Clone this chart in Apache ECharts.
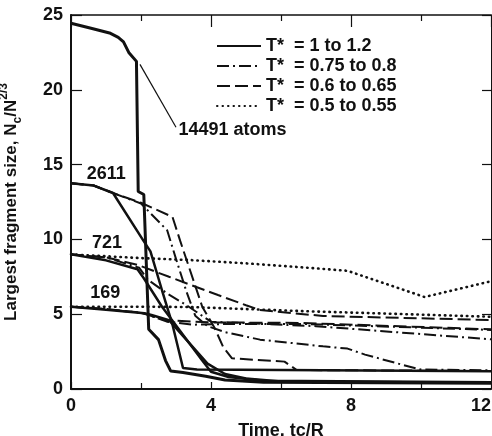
<!DOCTYPE html>
<html>
<head>
<meta charset="utf-8">
<script src="https://cdn.jsdelivr.net/npm/echarts@6/dist/echarts.min.js"></script>
<style>
  html, body { margin: 0; padding: 0; background: #fff; }
  #chart { width: 492px; height: 436px; }
</style>
</head>
<body>
<div id="chart"></div>
<script>
// axis ranges (time tc/R, fragment size Nc/N^2/3)
var xRange = [0, 12];
var xStep = 4;
var yRange = [0, 25];
var yStep = 5;

var legendNames = ['T*  = 1 to 1.2', 'T*  = 0.75 to 0.8', 'T*  = 0.6 to 0.65', 'T*  = 0.5 to 0.55'];

// curves: [time, size]
var n14491_solid = [[0,24.45],[0.6,24.1],[1.1,23.8],[1.35,23.5],[1.5,23.2],[1.65,22.5],[1.87,21.9],[1.92,13.2],[2.08,13.0],[2.22,4.0],[2.5,3.3],[2.7,1.9],[2.85,1.2],[3.2,1.1],[3.85,0.85],[4.4,0.6],[5.5,0.45],[12,0.38]];

var n2611_solid = [[0,13.75],[0.65,13.6],[1.2,13.1],[2.1,9.8],[2.27,9.2],[2.6,6.6],[2.9,4.3],[3.2,1.4],[3.6,1.3],[12,1.18]];
var n2611_dashdot = [[0,13.75],[0.65,13.6],[1.2,13.1],[2.0,12.4],[2.75,10.6],[3.0,8.7],[3.3,6.5],[3.55,4.9],[3.9,4.2],[4.4,3.8],[5.4,3.3],[7.2,2.85],[7.9,2.7],[8.4,2.3],[9.5,1.6],[10,1.3],[12,1.25]];
var n2611_dash = [[0,13.75],[0.65,13.6],[1.2,13.1],[2.0,12.45],[2.9,11.5],[3.12,9.9],[3.75,5.5],[4.1,4.1],[4.35,2.8],[4.6,2.05],[6.1,1.83],[6.45,1.27],[12,1.2]];

var n721_solid = [[0,9.0],[1.0,8.6],[1.9,8.0],[2.08,7.4],[2.6,5.5],[3.75,1.9],[4.0,1.15],[4.5,0.8],[5.5,0.55],[12,0.45]];
var n721_dashdot = [[0,9.0],[1.0,8.8],[1.95,8.1],[2.2,7.3],[2.74,6.4],[3.3,5.6],[4.0,4.5],[7.0,4.2],[12,3.32]];
var n721_dash = [[0,9.0],[1.0,8.8],[1.9,8.3],[2.8,7.5],[4.2,6.28],[5.0,5.6],[5.4,5.28],[7.2,4.88],[12,4.61]];
var n721_dot = [[0,9.0],[2,8.75],[3.4,8.62],[5,8.4],[6.8,8.1],[7.9,7.9],[10.1,6.15],[12,7.2]];

var n169_solid = [[0,5.5],[1,5.3],[2.1,5.06],[2.3,4.95],[2.8,4.6],[3.9,1.7],[4.4,1.0],[5,0.7],[6,0.5],[12,0.42]];
var n169_dashdot = [[0,5.5],[1,5.35],[2.1,5.05],[2.74,4.5],[3.5,4.3],[4.5,4.35],[6.6,4.35],[12,3.95]];
var n169_dash = [[0,5.5],[1,5.35],[2,5.1],[2.7,4.6],[4,4.45],[6.5,4.42],[12,3.99]];
var n169_dot = [[0,5.5],[2,5.5],[3.4,5.48],[6.7,5.2],[12,4.83]];

// size labels: [time, size, text]
var sizeLabels = [[1.01,14.37,'2611'],[1.03,9.76,'721'],[0.98,6.42,'169']];
var atomsLabel = [3.07,17.3,'14491 atoms'];
var atomsPointer = [[1.97,21.7],[3.0,17.5]];

var FONT = '"Liberation Sans", Arial, Helvetica, sans-serif';
var INK = '#111';

var styles = {
    solid: { type: 'solid', width: 2.5, cap: 'butt' },
    dashdot: { type: [12, 4, 2, 4], width: 2, cap: 'butt' },
    dash: { type: [13, 5], width: 2, cap: 'butt' },
    dot: { type: [0.5, 5], width: 2.6, cap: 'round' }
};

var curves = [
    [legendNames[0], 'solid', n14491_solid, 3],
    [legendNames[1], 'dashdot', n2611_dashdot],
    [legendNames[2], 'dash', n2611_dash],
    [legendNames[3], 'dot', n721_dot],
    [legendNames[0], 'solid', n2611_solid],
    [legendNames[0], 'solid', n721_solid],
    [legendNames[1], 'dashdot', n721_dashdot],
    [legendNames[2], 'dash', n721_dash],
    [legendNames[0], 'solid', n169_solid],
    [legendNames[1], 'dashdot', n169_dashdot],
    [legendNames[2], 'dash', n169_dash],
    [legendNames[3], 'dot', n169_dot]
];

var series = curves.map(function (c) {
    var ls = Object.assign({ color: INK }, styles[c[1]]);
    if (c[3]) ls.width = c[3];
    return {
        name: c[0],
        type: 'line',
        data: c[2],
        symbol: 'none',
        lineStyle: ls,
        itemStyle: { color: INK },
        z: 3
    };
});

// pointer from the big curve to its label
series[0].markLine = {
    silent: true,
    symbol: 'none',
    label: { show: false },
    lineStyle: { color: INK, width: 1.2, type: 'solid' },
    data: [[{ coord: atomsPointer[0] }, { coord: atomsPointer[1] }]]
};

series.push({
    name: 'labels',
    type: 'scatter',
    symbolSize: 0,
    silent: true,
    itemStyle: { color: INK, opacity: 1 },
    data: sizeLabels.map(function (d) {
        return { value: [d[0], d[1]], name: d[2] };
    }).concat([{
        value: [atomsLabel[0], atomsLabel[1]], name: atomsLabel[2],
        label: { position: 'right', distance: 0 }
    }]),
    label: {
        show: true,
        position: 'inside',
        formatter: '{b}',
        color: INK,
        opacity: 1,
        textBorderWidth: 0,
        fontFamily: FONT,
        fontWeight: 'bold',
        fontSize: 18
    },
    z: 5
});

var chart = echarts.init(document.getElementById('chart'), null, { renderer: 'canvas' });

var option = {
    animation: false,
    backgroundColor: '#fff',
    grid: { left: 71, right: 1, top: 15, bottom: 47, containLabel: false, outerBoundsMode: 'none' },
    legend: {
        data: legendNames,
        orient: 'vertical',
        left: 211,
        top: 32,
        itemWidth: 44,
        itemHeight: 14,
        itemGap: 2,
        selectedMode: false,
        itemStyle: { color: 'transparent', borderColor: 'transparent', borderWidth: 0 },
        textStyle: { color: INK, fontFamily: FONT, fontWeight: 'bold', fontSize: 18, lineHeight: 18 }
    },
    xAxis: [{
        type: 'value',
        min: xRange[0], max: xRange[1], interval: xStep,
        name: 'Time, tc/R',
        nameLocation: 'middle',
        nameGap: 33,
        nameTextStyle: { color: INK, fontFamily: FONT, fontWeight: 'bold', fontSize: 18 },
        axisLine: { onZero: false, lineStyle: { color: INK, width: 2 } },
        axisTick: { inside: true, length: 7, lineStyle: { color: INK, width: 1.2 } },
        minorTick: { show: true, splitNumber: 2, length: 6, lineStyle: { color: INK, width: 1.2 } },
        splitLine: { show: false },
        axisLabel: { color: INK, fontFamily: FONT, fontWeight: 'bold', fontSize: 18, margin: 8, alignMaxLabel: 'right' }
    }, {
        type: 'value',
        position: 'top',
        min: xRange[0], max: xRange[1], interval: xStep,
        axisLine: { onZero: false, lineStyle: { color: INK, width: 1.5 } },
        axisTick: { inside: true, length: 12, lineStyle: { color: INK, width: 1.2 } },
        minorTick: { show: true, splitNumber: 2, length: 6, lineStyle: { color: INK, width: 1.2 } },
        splitLine: { show: false },
        axisLabel: { show: false }
    }],
    yAxis: [{
        type: 'value',
        min: yRange[0], max: yRange[1], interval: yStep,
        name: 'Largest fragment size, N{sub|c}/N{sup|2/3}',
        nameLocation: 'middle',
        nameGap: 47,
        nameTextStyle: {
            color: INK, fontFamily: FONT, fontWeight: 'bold', fontSize: 17, lineHeight: 26,
            rich: {
                sub: { fontFamily: FONT, fontWeight: 'bold', fontSize: 12, lineHeight: 12, verticalAlign: 'bottom', color: INK },
                sup: { fontFamily: FONT, fontWeight: 'bold', fontSize: 12, lineHeight: 12, verticalAlign: 'top', color: INK }
            }
        },
        axisLine: { onZero: false, lineStyle: { color: INK, width: 2 } },
        axisTick: { inside: true, length: 11, lineStyle: { color: INK, width: 1.2 } },
        splitLine: { show: false },
        axisLabel: { color: INK, fontFamily: FONT, fontWeight: 'bold', fontSize: 18, margin: 8 }
    }, {
        type: 'value',
        position: 'right',
        min: yRange[0], max: yRange[1], interval: yStep,
        axisLine: { show: true, onZero: false, lineStyle: { color: INK, width: 1 } },
        axisTick: { show: true, inside: true, length: 9, lineStyle: { color: INK, width: 1.2 } },
        splitLine: { show: false },
        axisLabel: { show: false }
    }],
    series: series
};

chart.setOption(option);
</script>
</body>
</html>
